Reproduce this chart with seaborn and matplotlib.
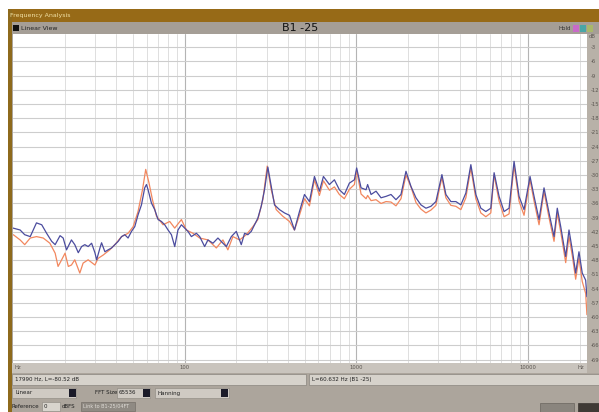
import numpy as np
import pandas as pd
import matplotlib
matplotlib.use("Agg")
import matplotlib.pyplot as plt
import seaborn as sns
from matplotlib.patches import Rectangle
from matplotlib.ticker import FixedLocator, FixedFormatter

# ---------------- data ----------------
blue_freq = [10, 11.0, 11.7, 12.6, 13.7, 14.7, 15.7, 16.8, 17.6, 18.8, 19.6, 20.5, 21.9, 22.9,
             24.0, 25.1, 26.2, 27.4, 28.7, 30.0, 30.7, 32.1, 32.8, 34.3, 35.8, 37.5, 39.2, 41.0,
             42.9, 44.8, 46.8, 49.0, 51.2, 53.5, 56.0, 58.5, 59.9, 61.2, 64.0, 66.9, 70.0, 73.2,
             76.5, 80.0, 83.7, 87.5, 91.4, 95.7, 100, 104.5, 109.4, 117, 122.3, 130.7, 136.6,
             146.1, 156.2, 167, 174.8, 186.9, 199.8, 213.6, 223.3, 233.3, 244.2, 255.3, 266.8,
             279.2, 291.8, 305, 319.2, 333.6, 356.7, 381.4, 407.8, 436, 466.3, 498.6, 533, 570,
             609.4, 642.9, 696.6, 744.8, 796.4, 851.4, 910.5, 973.6, 1004, 1065, 1139, 1163,
             1218, 1302, 1392, 1488, 1591, 1701, 1819, 1945, 2080, 2224, 2378, 2542, 2718, 2906,
             3150, 3323, 3553, 3800, 4062, 4343, 4644, 4965, 5309, 5676, 6068, 6343, 6782, 7252,
             7753, 8290, 8864, 9477, 10270, 10840, 11590, 12390, 13250, 14170, 14800, 15500,
             16570, 17320, 18100, 18940, 19800, 20690, 21660, 22030]
blue_db = [-41.2, -41.6, -42.6, -43.0, -40.1, -40.5, -42.3, -44.0, -44.7, -42.8, -43.3, -45.8,
           -43.7, -44.7, -46.4, -45.1, -44.7, -45.1, -44.4, -46.4, -47.9, -45.4, -44.3, -46.2,
           -45.8, -45.4, -44.7, -44.0, -43.0, -42.6, -43.3, -41.9, -40.9, -38.4, -36.3, -32.7,
           -32.0, -33.1, -35.9, -37.3, -39.4, -39.8, -40.5, -41.6, -42.6, -45.1, -41.6, -40.5,
           -41.2, -41.9, -43.0, -42.3, -43.0, -45.1, -43.7, -44.4, -43.3, -44.4, -45.1, -43.0,
           -41.9, -44.7, -42.3, -42.6, -41.9, -40.5, -39.1, -36.6, -33.1, -28.3, -32.4, -36.3,
           -37.3, -38.0, -38.5, -41.6, -37.7, -34.1, -35.6, -30.3, -33.4, -30.3, -32.0, -31.0,
           -33.1, -34.1, -31.7, -31.0, -28.5, -32.7, -33.1, -32.0, -34.1, -33.4, -34.8, -34.5,
           -34.1, -35.2, -34.1, -29.2, -32.4, -34.8, -36.3, -37.0, -36.6, -35.6, -29.9, -34.1,
           -35.6, -35.6, -36.3, -33.8, -27.8, -34.1, -37.0, -37.7, -37.0, -29.5, -34.5, -37.7,
           -37.0, -27.1, -34.5, -37.3, -30.3, -34.5, -39.4, -32.7, -38.0, -43.0, -37.0, -40.9,
           -47.2, -41.6, -45.8, -50.7, -46.2, -50.7, -52.2, -55.7]

orange_freq = [10.04, 11.0, 11.7, 12.6, 13.7, 15.0, 16.4, 17.6, 18.3, 19.2, 20.1, 21.0, 21.9,
               22.9, 24.5, 25.6, 27.4, 30.0, 31.3, 33.5, 36.6, 39.2, 42.9, 46.8, 50.1, 53.5,
               56.8, 59.3, 62.0, 64.9, 68.5, 74.8, 81.8, 87.5, 95.7, 102.3, 111.8, 122.3, 136.6,
               152.9, 167.0, 178.5, 190.9, 208.8, 228.4, 249.6, 266.8, 285.3, 302.5, 319.2,
               341.2, 372.9, 407.8, 436.0, 466, 499, 533, 570, 609, 643, 697, 745, 796, 851,
               911, 974, 1004, 1065, 1139, 1163, 1218, 1302, 1392, 1488, 1591, 1701, 1819, 1945,
               2080, 2224, 2378, 2542, 2718, 2906, 3150, 3323, 3553, 3800, 4062, 4343, 4644,
               4965, 5309, 5676, 6068, 6343, 6782, 7252, 7753, 8290, 8864, 9477, 10270, 10840,
               11590, 12390, 13250, 14170, 14800, 15500, 16570, 17320, 18100, 18940, 19800,
               20690, 21660, 22030]
orange_db = [-42.6, -43.7, -44.7, -43.3, -43.0, -43.3, -44.4, -46.5, -49.3, -47.9, -46.5, -49.3,
             -49.0, -47.9, -50.7, -48.6, -47.9, -49.0, -47.6, -46.9, -45.8, -44.7, -43.0, -42.3,
             -40.9, -37.7, -33.1, -28.8, -31.7, -35.2, -38.7, -40.5, -39.8, -41.2, -39.4, -41.6,
             -42.3, -43.3, -43.7, -45.4, -43.7, -45.8, -43.0, -43.7, -42.6, -40.9, -39.4, -35.2,
             -28.1, -33.1, -37.3, -38.7, -39.8, -41.6, -38.5, -35.0, -36.5, -31.0, -34.3, -31.2,
             -33.2, -32.5, -34.1, -35.0, -33.0, -32.0, -29.0, -34.0, -35.0, -34.3, -35.4, -35.2,
             -36.0, -35.6, -35.7, -36.5, -35.0, -30.0, -32.5, -35.8, -37.2, -38.0, -37.4, -36.4,
             -30.5, -34.8, -36.4, -36.6, -37.3, -34.8, -28.5, -35.0, -38.0, -38.8, -38.0, -30.0,
             -35.5, -38.8, -38.2, -28.0, -35.5, -38.5, -31.0, -35.5, -40.5, -33.5, -39.0, -44.0,
             -38.0, -42.0, -48.5, -43.0, -47.0, -52.0, -47.5, -52.5, -55.0, -59.5]

y_ticks = [-3, -6, -9, -12, -15, -18, -21, -24, -27, -30, -33, -36, -39, -42, -45, -48, -51,
           -54, -57, -60, -63, -66, -69]
y_tick_labels = [str(v) for v in y_ticks]
x_major = [100, 1000, 10000]
x_major_labels = ["100", "1000", "10000"]
x_minor = [20, 30, 40, 50, 60, 70, 80, 90, 200, 300, 400, 500, 600, 700, 800, 900,
           2000, 3000, 4000, 5000, 6000, 7000, 8000, 9000, 20000]

title_text = "B1 -25"
window_title = "Frequency Analysis"
status_left = "17990 Hz, L=-80.52 dB"
status_right = "L=60.632 Hz (B1 -25)"

# ---------------- figure ----------------
sns.set_theme(style="white")
plt.rcParams['font.family'] = ['DejaVu Sans']

W, H = 599, 412
fig = plt.figure(figsize=(W / 100, H / 100), dpi=100)
fig.patch.set_facecolor("white")

bg = fig.add_axes([0, 0, 1, 1])
bg.set_xlim(0, W)
bg.set_ylim(H, 0)
bg.axis("off")

def rect(x0, y0, x1, y1, fc, ec="none", lw=0.0, z=1):
    bg.add_patch(Rectangle((x0, y0), x1 - x0, y1 - y0, facecolor=fc, edgecolor=ec, lw=lw, zorder=z))

panel = "#aca59c"
rect(8, 9, W, H, panel)                 # window body
rect(8, 9, W, 22, "#976a17")            # title bar
rect(8, 9, 12, H, "#8e6a1c")            # left border
rect(12, 22, W, 34.5, "#a59e96")        # header bar
rect(587, 34, W, 373, "#b8b1a8")        # right axis strip
rect(12, 363, 587, 373, "#c9c4bd")      # x axis strip
# status row
rect(12, 374, 306, 385, "#d6d2cb", ec="#8a857e", lw=0.5)
rect(309, 374, W, 385, "#d6d2cb", ec="#8a857e", lw=0.5)
# controls row
rect(12, 388, 76, 398, "#cfcac3", ec="#8a857e", lw=0.4)
rect(69, 389, 76, 397, "#1a1a28")
rect(117, 388, 150, 398, "#cfcac3", ec="#8a857e", lw=0.4)
rect(143, 389, 150, 397, "#1a1a28")
rect(155, 388, 229, 398, "#cfcac3", ec="#8a857e", lw=0.4)
rect(221, 389, 228, 397, "#1a1a28")
# reference row
rect(42, 402, 60, 411, "#d8d4cd", ec="#8a857e", lw=0.4)
rect(81, 402, 135, 411, "#8f8a83", ec="#6b665f", lw=0.4)
rect(540, 403, 574, 412, "#8a857e", ec="#5e5a54", lw=0.4)
rect(578, 403, W, 412, "#3f3a35", ec="#2a2622", lw=0.4)
# header widgets
rect(12.5, 25, 18.5, 31, "#111111")
rect(573, 24.5, 579, 31.5, "#c86ac8")
rect(580, 24.5, 586, 31.5, "#4aa6a6")
rect(587, 24.5, 593, 31.5, "#a9b86a")

bg.text(10, 15.5, window_title, fontsize=4.5, color="#f2e2a6", va="center", ha="left", zorder=3)
bg.text(21, 28, "Linear View", fontsize=4.5, color="#222222", va="center", ha="left", zorder=3)
bg.text(300, 28, title_text, fontsize=8, color="#111111", va="center", ha="center", zorder=3)
bg.text(571, 28, "Hold", fontsize=4, color="#333333", va="center", ha="right", zorder=3)
bg.text(15, 379.5, status_left, fontsize=4, color="#222222", va="center", ha="left", zorder=3)
bg.text(312, 379.5, status_right, fontsize=4, color="#222222", va="center", ha="left", zorder=3)
bg.text(15, 393, "Linear", fontsize=4, color="#222222", va="center", ha="left", zorder=3)
bg.text(95, 393, "FFT Size", fontsize=4, color="#222222", va="center", ha="left", zorder=3)
bg.text(119, 393, "65536", fontsize=4, color="#222222", va="center", ha="left", zorder=3)
bg.text(158, 393, "Hanning", fontsize=4, color="#222222", va="center", ha="left", zorder=3)
bg.text(12, 406.5, "Reference", fontsize=4, color="#222222", va="center", ha="left", zorder=3)
bg.text(44, 406.5, "0", fontsize=4, color="#222222", va="center", ha="left", zorder=3)
bg.text(62, 406.5, "dBFS", fontsize=4, color="#222222", va="center", ha="left", zorder=3)
bg.text(83, 406.5, "Link to B1-25/04FT", fontsize=3.5, color="#e0ddd8", va="center", ha="left", zorder=3)

# ---------------- main plot ----------------
ax = fig.add_axes([13 / W, (H - 363) / H, 574 / W, 329 / H])
ax.set_facecolor("white")

df = pd.concat([
    pd.DataFrame({"freq": orange_freq, "db": orange_db, "series": "B1 -25 (b)"}),
    pd.DataFrame({"freq": blue_freq, "db": blue_db, "series": "B1 -25"}),
], ignore_index=True)

sns.lineplot(data=df, x="freq", y="db", hue="series",
             hue_order=["B1 -25 (b)", "B1 -25"],
             palette={"B1 -25 (b)": "#f2875e", "B1 -25": "#4b4c9e"},
             estimator=None, sort=False, lw=0.9, legend=False, ax=ax)

ax.set_xscale("log")
ax.set_xlim(10, 22050)
ax.set_ylim(-69.7, -0.2)
ax.set_xlabel("")
ax.set_ylabel("")

ax.xaxis.set_major_locator(FixedLocator(x_major))
ax.xaxis.set_major_formatter(FixedFormatter(x_major_labels))
ax.xaxis.set_minor_locator(FixedLocator(x_minor))
ax.xaxis.set_minor_formatter(FixedFormatter([""] * len(x_minor)))
ax.set_yticks(y_ticks)
ax.set_yticklabels(y_tick_labels)
ax.yaxis.tick_right()

ax.grid(True, which="major", axis="y", color="#cdcdcd", lw=0.8)
ax.grid(True, which="major", axis="x", color="#b4b4b4", lw=0.8)
ax.grid(True, which="minor", axis="x", color="#d9d9d9", lw=0.6)
ax.set_axisbelow(True)

ax.tick_params(axis="y", which="both", length=0, pad=2.5, labelsize=3.8, labelcolor="#5a5550")
ax.tick_params(axis="x", which="both", length=0, pad=1.2, labelsize=3.8, labelcolor="#5a5550")

for s in ax.spines.values():
    s.set_visible(False)

ax.text(1.003, 1.0, "dB", transform=ax.transAxes, fontsize=3.8, color="#5a5550",
        ha="left", va="top")
ax.text(0.003, -0.005, "Hz", transform=ax.transAxes, fontsize=3.8, color="#5a5550",
        ha="left", va="top")
ax.text(0.995, -0.005, "Hz", transform=ax.transAxes, fontsize=3.8, color="#5a5550",
        ha="right", va="top")

fig.savefig("out.png", dpi=100)
